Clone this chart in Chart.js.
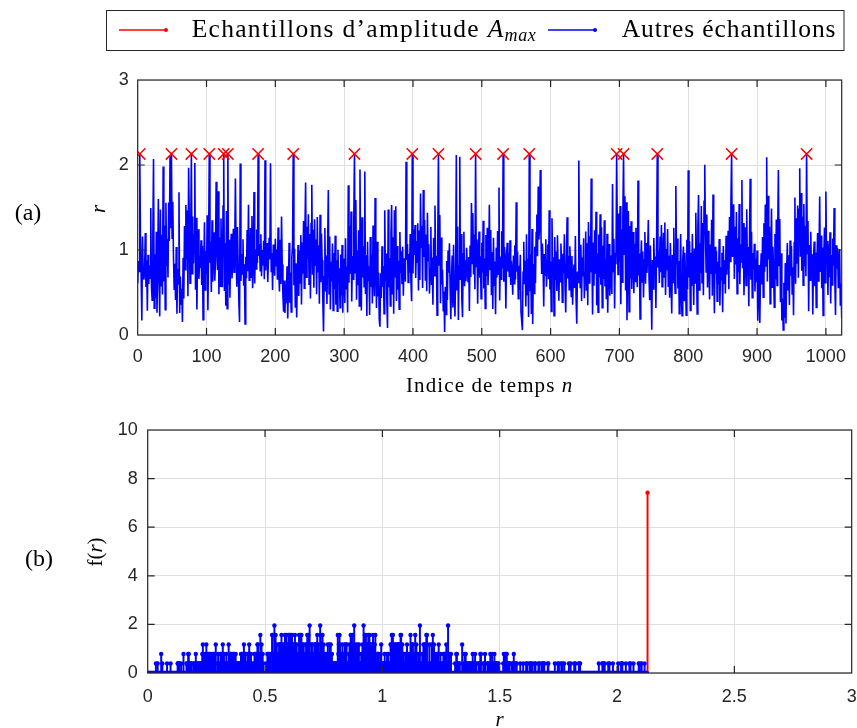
<!DOCTYPE html>
<html>
<head>
<meta charset="utf-8">
<script src="https://cdn.jsdelivr.net/npm/chart.js@4"></script>
<style>
  html, body { margin: 0; padding: 0; background: #fff; }
  #page { position: relative; width: 857px; height: 728px; overflow: hidden; }
  #page canvas, #page svg { position: absolute; left: 0; top: 0; }
  svg text { font-family: "Liberation Serif", "Times New Roman", serif; fill: #000; }
</style>
</head>
<body>
<div id="page">
  <canvas id="chartA" width="857" height="728"></canvas>
  <canvas id="chartB" width="857" height="728"></canvas>
  <svg width="857" height="728">
    <!-- legend -->
    <rect x="106.5" y="10.5" width="737.5" height="40" fill="#fff" stroke="#262626" stroke-width="1"/>
    <line x1="119" y1="30" x2="166" y2="30" stroke="#ff0000" stroke-width="1.5"/>
    <circle cx="166" cy="30" r="2" fill="#ff0000"/>
    <text x="191.7" y="37" font-size="25.5" letter-spacing="1.3">Echantillons d’amplitude <tspan font-style="italic">A</tspan><tspan font-style="italic" font-size="18" dy="4" letter-spacing="0.6">max</tspan></text>
    <line x1="548" y1="30" x2="595" y2="30" stroke="#0000ff" stroke-width="1.5"/>
    <circle cx="595" cy="30" r="2" fill="#0000ff"/>
    <text x="621.7" y="37" font-size="25.5" letter-spacing="0.9">Autres échantillons</text>
    <!-- panel tags and axis titles -->
    <text x="28" y="220" font-size="24" text-anchor="middle">(a)</text>
    <text x="39" y="566" font-size="24" text-anchor="middle">(b)</text>
    <text transform="translate(105,209) rotate(-90)" text-anchor="middle" font-size="21" font-style="italic">r</text>
    <text transform="translate(102,552) rotate(-90)" text-anchor="middle" font-size="21">f(<tspan font-style="italic">r</tspan>)</text>
    <text x="489.7" y="391.7" text-anchor="middle" font-size="21" letter-spacing="1.1">Indice de temps <tspan font-style="italic">n</tspan></text>
    <text x="499.7" y="726" text-anchor="middle" font-size="21" font-style="italic">r</text>
  </svg>
</div>
<script>
// amplitude r for each time index n = 0..1023
const rValues = [
  0.605, 0.871, 0.749, 2.130, 1.141, 0.690, 0.172, 1.159, 0.705, 0.651, 0.744, 1.199, 0.566, 0.880, 0.285, 0.945, 0.599, 0.820, 0.668, 1.495, 0.570, 0.409, 1.161, 2.071, 0.315, 0.950, 0.433, 1.216, 0.262, 0.735, 1.601, 0.697,
  0.219, 1.477, 0.581, 1.180, 0.476, 1.982, 0.630, 1.289, 0.297, 1.555, 0.811, 1.129, 0.676, 1.560, 1.105, 2.104, 1.255, 2.130, 1.139, 1.569, 0.915, 0.540, 0.839, 0.411, 1.035, 0.249, 0.779, 0.601, 1.679, 0.258, 0.687, 0.366,
  0.545, 0.153, 0.909, 0.430, 1.281, 0.769, 1.530, 0.888, 1.466, 0.455, 1.968, 1.319, 0.610, 1.201, 2.130, 0.722, 1.395, 0.841, 1.177, 2.023, 0.533, 1.380, 0.299, 0.978, 1.244, 0.660, 0.925, 0.790, 1.115, 0.589, 1.050, 0.179,
  0.699, 1.325, 0.529, 0.988, 0.716, 1.410, 0.290, 1.020, 2.130, 0.851, 1.099, 0.505, 1.351, 0.627, 0.959, 1.208, 0.639, 0.865, 1.803, 1.041, 0.766, 1.691, 0.480, 1.148, 0.575, 1.370, 0.829, 0.561, 1.517, 2.130, 0.519, 1.079,
  0.345, 1.460, 0.309, 2.130, 0.595, 1.121, 0.439, 0.981, 1.190, 0.665, 0.887, 1.250, 0.738, 1.044, 1.841, 0.970, 0.569, 1.271, 0.826, 0.391, 0.152, 2.018, 0.635, 0.955, 0.719, 1.127, 0.580, 0.832, 0.131, 0.921, 0.667, 1.235,
  0.751, 1.533, 0.644, 0.901, 1.260, 0.681, 1.399, 0.549, 0.870, 1.683, 0.606, 1.010, 0.777, 1.240, 0.848, 2.130, 0.930, 1.071, 0.756, 1.185, 0.691, 1.001, 0.819, 1.110, 0.655, 2.057, 0.760, 0.989, 1.081, 0.625, 0.900, 1.145,
  0.889, 2.020, 0.747, 0.966, 0.529, 1.065, 0.855, 0.698, 1.131, 0.815, 1.005, 0.650, 1.265, 0.740, 0.511, 1.120, 0.600, 1.393, 0.830, 0.465, 0.275, 0.640, 0.259, 0.590, 0.375, 0.810, 0.195, 0.545, 1.085, 0.380, 0.736, 0.270,
  0.919, 1.051, 2.130, 0.585, 1.015, 0.329, 0.845, 0.205, 0.671, 1.060, 0.459, 0.995, 0.611, 1.175, 0.360, 1.089, 0.721, 1.340, 0.551, 1.219, 1.794, 0.679, 1.273, 0.895, 1.420, 0.599, 1.189, 0.430, 1.310, 1.768, 0.709, 1.239,
  0.555, 1.361, 0.821, 1.125, 0.479, 1.389, 0.745, 1.055, 0.369, 1.415, 0.620, 1.195, 0.880, 0.415, 0.042, 0.685, 1.258, 0.511, 0.935, 0.365, 1.040, 1.707, 0.485, 1.160, 0.301, 0.861, 0.631, 1.075, 0.289, 0.965, 0.541, 1.169,
  0.355, 0.878, 0.280, 1.003, 0.598, 0.785, 0.321, 0.948, 0.466, 1.058, 0.261, 0.714, 0.899, 0.377, 1.137, 0.546, 0.803, 0.264, 1.762, 0.615, 1.279, 0.717, 1.454, 0.393, 0.929, 0.656, 1.353, 2.130, 0.733, 1.587, 0.414, 0.996,
  0.586, 1.232, 0.341, 1.948, 0.818, 0.287, 1.384, 0.677, 1.046, 0.568, 1.923, 0.481, 0.939, 0.223, 1.097, 0.642, 0.808, 0.236, 1.152, 0.564, 0.947, 0.372, 1.287, 0.695, 0.457, 1.612, 0.867, 0.317, 1.098, 0.453, 0.734, 0.183,
  0.097, 0.726, 0.434, 1.043, 0.566, 0.813, 0.252, 1.468, 0.638, 0.958, 0.417, 0.083, 1.476, 0.562, 0.907, 0.343, 1.183, 1.528, 0.477, 1.149, 0.251, 1.469, 0.686, 1.514, 0.399, 1.047, 0.532, 0.873, 0.303, 1.211, 0.728, 0.986,
  0.597, 1.038, 0.462, 0.903, 0.787, 0.628, 2.037, 0.884, 1.069, 0.617, 0.952, 0.732, 1.188, 0.643, 0.397, 2.130, 0.723, 1.243, 0.941, 1.293, 0.672, 1.106, 0.857, 1.316, 0.523, 1.229, 0.647, 1.664, 1.033, 1.283, 0.553, 1.705,
  0.917, 1.354, 0.637, 1.182, 0.514, 1.437, 0.876, 1.067, 0.487, 0.776, 1.272, 0.588, 0.912, 0.356, 1.143, 0.699, 1.523, 0.764, 0.933, 0.234, 1.087, 2.130, 0.823, 1.413, 0.374, 1.146, 0.593, 0.768, 0.286, 0.513, 0.034, 0.567,
  0.243, 0.872, 0.412, 0.993, 0.734, 1.078, 0.557, 0.186, 0.664, 0.936, 0.324, 1.063, 0.484, 0.217, 0.711, 2.118, 0.534, 1.277, 0.176, 0.817, 2.097, 0.646, 1.187, 0.423, 0.209, 0.954, 1.214, 0.574, 0.879, 0.634, 1.025, 0.767,
  0.626, 0.919, 0.283, 1.054, 0.683, 1.552, 0.843, 1.436, 0.712, 1.181, 0.539, 2.130, 0.806, 1.123, 0.367, 0.953, 1.217, 0.674, 0.926, 0.428, 1.086, 0.736, 1.344, 0.548, 0.904, 0.313, 1.176, 0.694, 1.263, 0.587, 0.844, 1.531,
  0.772, 1.236, 0.468, 0.977, 0.306, 1.144, 0.583, 0.866, 0.244, 1.026, 0.678, 1.224, 0.714, 1.736, 0.406, 0.924, 0.657, 1.221, 0.783, 2.130, 0.627, 1.034, 0.877, 0.312, 0.944, 1.084, 0.748, 0.967, 0.684, 1.116, 0.588, 0.872,
  0.723, 0.474, 0.934, 0.604, 1.057, 0.653, 1.563, 0.743, 0.983, 0.426, 0.814, 0.531, 0.943, 0.274, 0.164, 0.058, 0.737, 1.096, 0.598, 0.874, 0.334, 1.186, 0.473, 0.896, 0.213, 2.130, 0.516, 0.946, 0.247, 1.248, 0.128, 0.834,
  0.488, 1.037, 0.613, 1.204, 1.417, 0.927, 1.748, 1.124, 1.288, 1.942, 1.178, 0.717, 1.076, 0.863, 0.336, 0.954, 0.703, 1.127, 0.567, 0.876, 1.067, 0.656, 1.467, 0.536, 0.866, 0.277, 1.374, 0.763, 0.916, 0.226, 1.153, 0.646,
  0.982, 0.518, 1.174, 0.742, 0.404, 0.892, 0.626, 1.077, 0.818, 0.386, 0.957, 0.727, 1.184, 0.544, 0.266, 0.868, 1.386, 0.666, 0.932, 0.533, 1.044, 0.775, 0.454, 0.928, 0.357, 0.686, 0.828, 0.554, 1.166, 0.432, 0.132, 0.746,
  0.619, 2.052, 0.897, 0.559, 1.061, 0.401, 0.913, 0.689, 1.139, 0.433, 0.731, 1.219, 0.521, 1.079, 0.351, 1.329, 0.613, 1.161, 0.739, 1.842, 0.931, 0.241, 1.089, 0.579, 1.233, 0.719, 1.451, 0.349, 0.961, 0.269, 1.181, 0.681,
  1.421, 0.591, 1.269, 0.321, 1.049, 0.659, 1.351, 0.571, 0.891, 0.421, 1.191, 0.263, 0.811, 1.071, 0.461, 0.688, 0.939, 0.481, 1.776, 0.749, 1.131, 0.311, 0.969, 0.831, 2.130, 1.119, 0.711, 1.429, 0.861, 1.519, 0.361, 1.241,
  0.621, 1.397, 2.130, 0.951, 1.633, 0.523, 1.561, 0.174, 0.921, 1.459, 0.273, 1.281, 0.661, 1.339, 0.541, 0.871, 1.211, 0.491, 1.073, 0.629, 1.261, 0.839, 0.563, 1.818, 0.701, 0.959, 0.188, 0.879, 1.113, 0.623, 0.981, 0.441,
  0.881, 1.213, 0.603, 1.083, 0.729, 0.963, 1.353, 0.673, 0.409, 1.053, 0.633, 0.063, 0.883, 0.543, 1.141, 0.753, 0.923, 0.319, 1.077, 2.130, 0.793, 0.993, 0.611, 1.159, 0.737, 1.293, 0.569, 0.929, 1.203, 0.683, 1.323, 0.471,
  1.013, 0.761, 1.247, 0.573, 0.933, 0.437, 1.081, 0.693, 0.254, 0.943, 0.617, 1.263, 0.727, 0.493, 1.752, 0.833, 1.134, 0.547, 0.869, 0.251, 0.713, 1.187, 0.467, 0.227, 0.873, 1.041, 0.407, 0.967, 0.689, 0.233, 1.121, 0.539,
  1.937, 0.677, 1.102, 0.289, 0.969, 0.578, 1.189, 0.779, 0.353, 1.017, 0.612, 1.437, 0.853, 0.248, 1.279, 1.648, 0.531, 1.078, 0.726, 1.517, 0.616, 1.317, 0.469, 1.573, 2.004, 1.183, 0.742, 1.417, 0.558, 1.227, 0.847, 0.418,
  1.066, 0.718, 1.356, 0.463, 1.653, 0.894, 0.256, 1.039, 0.722, 0.985, 0.398, 0.862, 0.592, 1.128, 0.346, 0.798, 0.652, 0.968, 0.267, 1.048, 0.609, 0.878, 0.489, 1.167, 0.708, 0.948, 1.226, 0.538, 1.388, 0.864, 1.527, 2.130,
  0.928, 1.484, 1.538, 0.658, 1.274, 0.828, 1.448, 0.486, 1.138, 0.738, 1.542, 0.596, 1.068, 0.858, 1.823, 0.784, 1.318, 0.468, 0.974, 1.268, 0.584, 1.478, 0.706, 1.036, 0.338, 1.126, 1.838, 0.649, 1.216, 0.438, 0.964, 0.773,
  1.074, 0.512, 0.898, 0.622, 0.994, 0.167, 0.538, 0.824, 0.142, 0.708, 0.962, 0.594, 1.154, 0.444, 1.314, 0.744, 1.534, 0.812, 2.092, 0.628, 1.638, 0.888, 1.272, 0.368, 0.944, 1.488, 0.562, 1.038, 0.774, 0.328, 1.188, 0.654,
  1.358, 0.582, 1.222, 1.941, 0.818, 1.364, 0.388, 0.962, 0.172, 0.428, 0.058, 0.614, 0.204, 0.848, 0.134, 0.768, 1.082, 0.532, 0.938, 0.352, 1.112, 0.698, 1.046, 0.482, 0.796, 0.232, 1.088, 1.617, 0.602, 1.372, 0.838, 1.523,
  0.675, 1.480, 1.962, 0.920, 1.670, 0.755, 1.395, 0.585, 1.540, 0.810, 1.280, 0.690, 2.130, 0.960, 1.340, 0.280, 1.060, 0.645, 1.215, 0.770, 0.950, 0.240, 0.885, 1.100, 0.575, 0.970, 0.325, 0.860, 1.200, 0.635, 0.910, 1.628,
  0.740, 1.170, 0.550, 1.030, 0.230, 0.925, 1.265, 0.615, 1.687, 0.845, 1.105, 0.470, 1.065, 0.680, 1.210, 0.370, 0.940, 0.590, 1.135, 0.815, 1.493, 0.650, 0.235, 1.055, 0.780, 1.020, 0.560, 0.915, 1.010, 0.345, 0.605, 0.198
];

// axis ticks
const xTicksA = [0, 100, 200, 300, 400, 500, 600, 700, 800, 900, 1000];
const yTicksA = [0, 1, 2, 3];
const xTicksB = [0, 0.5, 1, 1.5, 2, 2.5, 3];
const yTicksB = [0, 2, 4, 6, 8, 10];

// histogram bin width used for f(r)
const binWidth = 0.0025;

// --- derived data ---
const amax = Math.max(...rValues);
const series = rValues.map((v, i) => ({ x: i, y: v }));
const peaks = series.filter(p => p.y === amax);

const nBins = Math.round(amax / binWidth);
const counts = new Array(nBins + 1).fill(0);
rValues.forEach(v => { counts[Math.round(v / binWidth)] += 1; });
const dens = counts.map((c, k) => ({ x: k * binWidth, y: c / (rValues.length * binWidth) }));
const densOther = dens.slice(0, nBins);
const densMax = dens.slice(nBins);

const AX = '#262626', GRID = '#dfdfdf', BLUE = '#0000ff', RED = '#ff0000';
const tickFont = { family: '"Liberation Sans", Arial, Helvetica, sans-serif', size: 18 };

// MATLAB style box with inward tick marks
const matlabBox = {
    id: 'matlabBox',
    afterDraw(chart) {
        const { ctx, chartArea: a, scales } = chart;
        ctx.save();
        ctx.strokeStyle = AX;
        ctx.lineWidth = 1.2;
        ctx.beginPath();
        scales.x.ticks.forEach(t => {
            const px = scales.x.getPixelForValue(t.value);
            if (px <= a.left + 1 || px >= a.right - 1) return;
            ctx.moveTo(px, a.bottom); ctx.lineTo(px, a.bottom - 7);
            ctx.moveTo(px, a.top); ctx.lineTo(px, a.top + 7);
        });
        scales.y.ticks.forEach(t => {
            const py = scales.y.getPixelForValue(t.value);
            if (py <= a.top + 1 || py >= a.bottom - 1) return;
            ctx.moveTo(a.left, py); ctx.lineTo(a.left + 7, py);
            ctx.moveTo(a.right, py); ctx.lineTo(a.right - 7, py);
        });
        ctx.stroke();
        ctx.strokeRect(a.left, a.top, a.right - a.left, a.bottom - a.top);
        ctx.restore();
    }
};

function makeAxis(tickValues, min, max, opts) {
    return Object.assign({
        type: 'linear',
        min: min,
        max: max,
        offset: false,
        afterBuildTicks: s => { s.ticks = tickValues.map(v => ({ value: v })); },
        ticks: { font: tickFont, color: AX, maxRotation: 0, autoSkip: false, callback: v => String(v) },
        grid: { color: GRID, lineWidth: 1, drawTicks: false, offset: false },
        border: { display: false }
    }, opts);
}

function fitX(h) {
    return s => { s.height = h; s.paddingLeft = 0; s.paddingRight = 0; };
}
function fitY(w) {
    return s => { s.width = w; s.paddingTop = 0; s.paddingBottom = 0; };
}

document.addEventListener('DOMContentLoaded', function () {
    // (a) time series
    const xA = makeAxis(xTicksA, 0, 1023, { afterFit: fitX(50) });
    xA.ticks.padding = 11;
    const yA = makeAxis(yTicksA, 0, 3, { afterFit: fitY(137.7) });
    yA.ticks.padding = 9;

    new Chart(document.getElementById('chartA'), {
        type: 'line',
        data: {
            datasets: [
                {
                    data: peaks,
                    showLine: false,
                    pointStyle: 'crossRot',
                    pointRadius: 8,
                    pointBorderColor: RED,
                    pointBorderWidth: 1.5,
                    borderColor: RED
                },
                {
                    data: series,
                    borderColor: BLUE,
                    borderWidth: 1.6,
                    pointRadius: 0,
                    tension: 0
                }
            ]
        },
        options: {
            responsive: false,
            animation: false,
            events: [],
            layout: { padding: { left: 0, top: 80, right: 15.3, bottom: 343 } },
            plugins: { legend: { display: false }, tooltip: { enabled: false } },
            scales: { x: xA, y: yA }
        },
        plugins: [matlabBox]
    });

    // (b) f(r) stems
    const xB = makeAxis(xTicksB, 0, 3, { afterFit: fitX(50) });
    xB.ticks.padding = 13;
    const yB = makeAxis(yTicksB, 0, 10, { afterFit: fitY(147.7) });
    yB.ticks.padding = 10;

    new Chart(document.getElementById('chartB'), {
        type: 'bar',
        data: {
            datasets: [
                { type: 'scatter', data: densMax, pointRadius: 2.2, pointBackgroundColor: RED, pointBorderWidth: 0 },
                { type: 'scatter', data: densOther, pointRadius: 2.2, pointBackgroundColor: BLUE, pointBorderWidth: 0 },
                { data: densMax, backgroundColor: RED, barThickness: 1.3, grouped: false },
                { data: densOther, backgroundColor: BLUE, barThickness: 1.3, grouped: false }
            ]
        },
        options: {
            responsive: false,
            animation: false,
            events: [],
            layout: { padding: { left: 0, top: 430, right: 5.3, bottom: 5 } },
            plugins: { legend: { display: false }, tooltip: { enabled: false } },
            scales: { x: xB, y: yB }
        },
        plugins: [matlabBox]
    });
});
</script>
</body>
</html>
